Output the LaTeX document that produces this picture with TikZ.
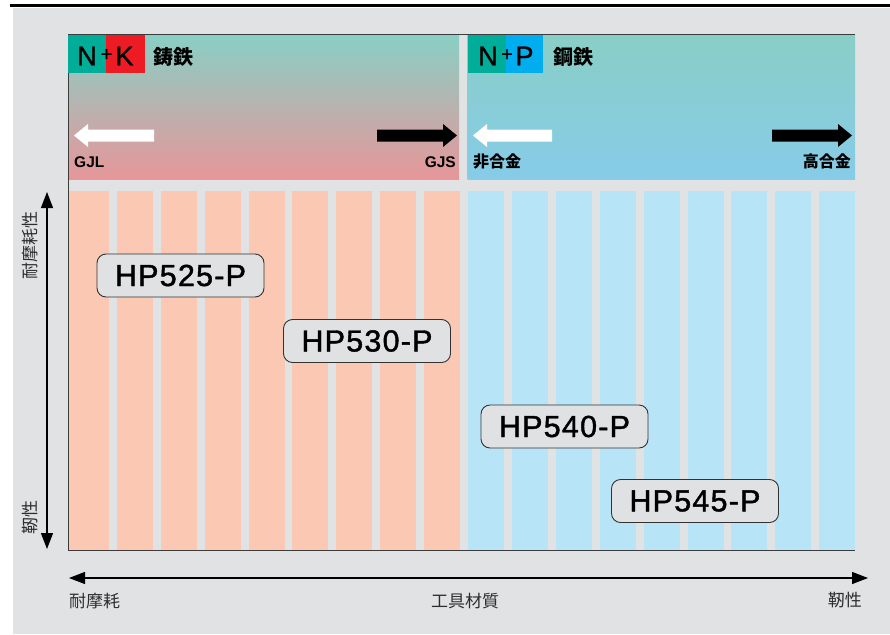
\documentclass[tikz,border=0pt]{standalone}
\usepackage{fontspec}
\setmainfont{Liberation Sans}
\newfontfamily\cjk{Noto Sans CJK JP}
\newfontfamily\hpfont[FakeBold=1.3,LetterSpace=4]{Liberation Sans}
\newfontfamily\badgefont[FakeBold=1.2]{Liberation Sans}
\usetikzlibrary{arrows.meta}
\definecolor{bggray}{RGB}{225,226,228}
\definecolor{castTop}{RGB}{137,207,197}
\definecolor{castMid}{RGB}{198,187,171}
\definecolor{castBot}{RGB}{231,150,153}
\definecolor{steelTop}{RGB}{137,206,198}
\definecolor{steelMid}{RGB}{136,206,216}
\definecolor{steelBot}{RGB}{135,204,232}
\definecolor{castStripe}{RGB}{251,200,180}
\definecolor{steelStripe}{RGB}{184,228,248}
\definecolor{nteal}{RGB}{0,173,152}
\definecolor{kred}{RGB}{237,28,36}
\definecolor{pblue}{RGB}{0,173,239}
\definecolor{boxfill}{RGB}{224,225,227}
\definecolor{boxline}{RGB}{50,50,50}
\definecolor{frameline}{RGB}{60,60,60}
\definecolor{axtext}{RGB}{45,45,45}
\newcommand{\wlarrow}[2]{\fill[white] (#1,135.5) -- (#1+14,124) -- (#1+14,129.5) -- (#2,129.5) -- (#2,141.5) -- (#1+14,141.5) -- (#1+14,147) -- cycle;}
\newcommand{\bkarrow}[2]{\fill[black] (#2,135.5) -- (#2-14,124) -- (#2-14,129.5) -- (#1,129.5) -- (#1,141.5) -- (#2-14,141.5) -- (#2-14,147) -- cycle;}
\begin{document}
\begin{tikzpicture}[x=1pt,y=-1pt,
  hpbox/.style={draw=boxline, fill=boxfill, rounded corners=9pt, line width=0.9pt,
    minimum width=167pt, minimum height=43pt, inner sep=0pt,
    font=\hpfont\fontsize{30.5}{30.5}\selectfont},
  badge/.style={inner sep=0pt, font=\badgefont\fontsize{27}{27}\selectfont},
  plus/.style={inner sep=0pt, font=\badgefont\fontsize{20}{20}\selectfont},
  mat/.style={inner sep=0pt, font=\cjk\bfseries\fontsize{20}{20}\selectfont},
  endlab/.style={inner sep=0pt, font=\bfseries\fontsize{15.5}{15.5}\selectfont},
  endlabcjk/.style={inner sep=0pt, font=\cjk\bfseries\fontsize{16}{16}\selectfont},
  axlab/.style={inner sep=0pt, text=axtext, font=\cjk\fontsize{17}{17}\selectfont},
  axis/.style={line width=1.2pt, {Triangle[length=16pt,width=12pt]}-{Triangle[length=16pt,width=12pt]}}
]
\useasboundingbox (0,0) rectangle (890,634);
\fill[white] (0,0) rectangle (890,634);
\fill[bggray] (13,8) rectangle (890,634);
\draw[line width=3pt] (9.5,5.5) -- (890,5.5);

% top panels
\shade[top color=castTop, middle color=castMid, bottom color=castBot] (68,35) rectangle (459,179);
\shade[top color=steelTop, middle color=steelMid, bottom color=steelBot] (467.5,35) rectangle (855,179);

% stripes
\fill[castStripe] (68,191) rectangle (109,550);
\foreach \i in {0,...,7} {
  \fill[castStripe] ({117+43.85*\i},191) rectangle ({153+43.85*\i},550);
}
\foreach \i in {0,...,8} {
  \fill[steelStripe] ({468+43.9*\i},191) rectangle ({504+43.9*\i},550);
}

% frame lines
\draw[frameline, line width=1pt] (68,35) -- (855,35);
\draw[frameline, line width=1pt] (68,35) -- (68,550) -- (855,550);

% badges
\fill[nteal] (68,35) rectangle (106,73);
\fill[kred] (106,35) rectangle (145,73);
\node[badge] (bn1) at (87,56) {N};
\node[plus] (bp1) at (106.5,55) {+};
\node[badge] (bk) at (124.5,56) {K};
\node[mat, anchor=west] (cast) at (153,57) {鋳鉄};

\fill[nteal] (467.5,35) rectangle (506,73);
\fill[pblue] (506,35) rectangle (543,73);
\node[badge] (bn2) at (488,56) {N};
\node[plus] (bp2) at (507,55) {+};
\node[badge] (bpp) at (524.5,56) {P};
\node[mat, anchor=west] (steel) at (553,57) {鋼鉄};

% arrows in top panels
\wlarrow{74}{154}
\bkarrow{377}{457}
\wlarrow{473}{552}
\bkarrow{772}{852}

\node[endlab, anchor=west] (gjl) at (74,162) {GJL};
\node[endlab, anchor=east] (gjs) at (456,162) {GJS};
\node[endlabcjk, anchor=west] (nonal) at (473,161) {非合金};
\node[endlabcjk, anchor=east] (highal) at (851,161) {高合金};

% grade boxes
\node[hpbox] (hp525) at (180.5,275.5) {HP525-P};
\node[hpbox] (hp530) at (367,341) {HP530-P};
\node[hpbox] (hp540) at (564.5,426.5) {HP540-P};
\node[hpbox] (hp545) at (695,501) {HP545-P};

% axes
\coordinate (yt) at (47,192);
\coordinate (yb) at (47,549);
\draw[axis] (yt) -- (yb);
\coordinate (xl) at (69,578);
\coordinate (xr) at (868,578);
\draw[axis] (xl) -- (xr);

\node[axlab, rotate=90] (wear) at (30,245) {耐摩耗性};
\node[axlab, rotate=90] (tough) at (30,517.5) {靭性};
\node[axlab, anchor=west] (xwear) at (69,601) {耐摩耗};
\node[axlab] (xmat) at (465,601) {工具材質};
\node[axlab, anchor=east] (xtough) at (862,600) {靭性};
\end{tikzpicture}
\end{document}
